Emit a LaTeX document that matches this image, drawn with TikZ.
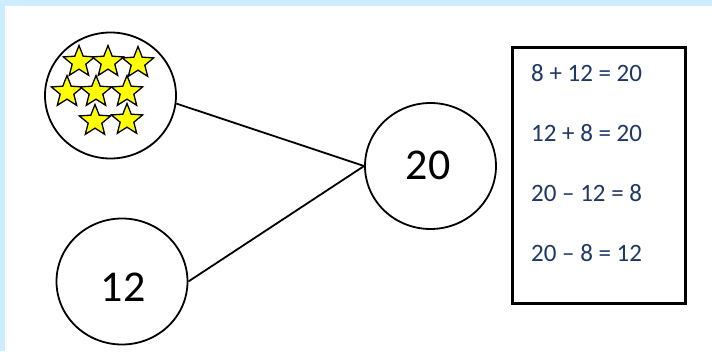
\documentclass[tikz,border=0pt]{standalone}
\usepackage{fontspec}
\setmainfont{Carlito}
\usetikzlibrary{shapes.geometric}
\definecolor{bandblue}{RGB}{204,236,255}
\definecolor{eqblue}{RGB}{31,56,100}
\definecolor{staryellow}{RGB}{255,255,0}
\begin{document}
\begin{tikzpicture}[x=1pt,y=-1pt,
  ring/.style={draw, line width=1.8pt, ellipse, inner sep=0pt, minimum width=131pt, minimum height=126pt},
  starshape/.style={star, star points=5, star point ratio=2.3, draw, line width=1.3pt, fill=staryellow, minimum size=33pt, inner sep=0pt},
  bignum/.style={font=\fontsize{44}{50}\selectfont, text=black},
  eq/.style={font=\fontsize{25}{29}\selectfont, text=eqblue, anchor=west, inner sep=0pt},
  link/.style={line width=1.8pt}
]
\useasboundingbox (0,0) rectangle (712,351);
\fill[white] (0,0) rectangle (712,351);
\fill[bandblue] (0,0) rectangle (712,6);
\fill[bandblue] (0,0) rectangle (5,351);

\node[ring] (stars) at (110.5,95.5) {};
\node[ring] (twenty) at (430.5,166) {};
\node[ring] (twelve) at (122,281.5) {};

\node[starshape] (s1) at (79,62) {};
\node[starshape] (s2) at (108,62) {};
\node[starshape] (s3) at (138,63) {};
\node[starshape] (s4) at (67,92) {};
\node[starshape] (s5) at (96,92) {};
\node[starshape] (s6) at (127,92) {};
\node[starshape] (s7) at (95,121) {};
\node[starshape] (s8) at (127,120) {};

\node[bignum] (t20) at (428,165) {20};
\node[bignum] (t12) at (123,287) {12};

\draw[link] (stars.-7) -- (twenty.west);
\draw[link] (twelve.east) -- (twenty.west);

\node[draw, line width=3pt, minimum width=173pt, minimum height=256pt, inner sep=0pt] (box) at (598.5,175) {};
\node[eq] (e1) at (531,73) {8 + 12 = 20};
\node[eq] (e2) at (531,133) {12 + 8 = 20};
\node[eq] (e3) at (531,193) {20 – 12 = 8};
\node[eq] (e4) at (531,253) {20 – 8 = 12};
\end{tikzpicture}
\end{document}
